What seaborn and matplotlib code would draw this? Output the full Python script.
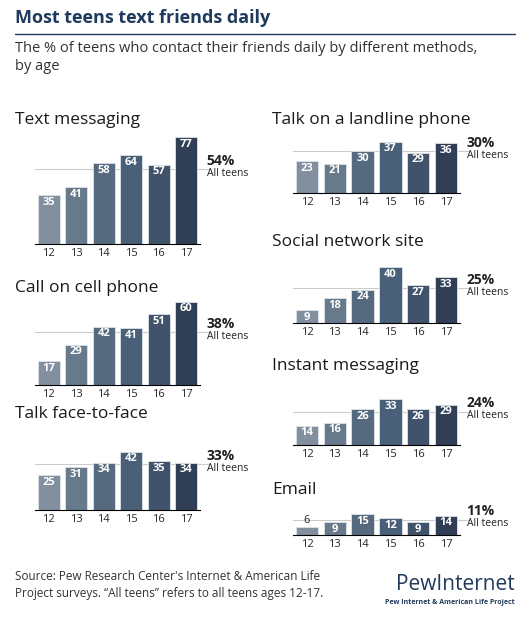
import pandas as pd
import matplotlib
matplotlib.use("Agg")
import matplotlib.pyplot as plt
import seaborn as sns

sns.set_style("white")
plt.rcParams['font.family'] = ['Open Sans', 'DejaVu Sans']

ages = ['12', '13', '14', '15', '16', '17']
titles = ['Text messaging', 'Call on cell phone', 'Talk face-to-face',
          'Talk on a landline phone', 'Social network site', 'Instant messaging', 'Email']
values = [
    [35, 41, 58, 64, 57, 77],
    [17, 29, 42, 41, 51, 60],
    [25, 31, 34, 42, 35, 34],
    [23, 21, 30, 37, 29, 36],
    [9, 18, 24, 40, 27, 33],
    [14, 16, 26, 33, 26, 29],
    [6, 9, 15, 12, 9, 14],
]
all_teens = [54, 38, 33, 30, 25, 24, 11]

palette = ['#7c8ea4', '#5f7a93', '#4f6a86', '#435f7f', '#3a5272', '#2a3e5c']

W, H = 530, 634
fig = plt.figure(figsize=(W / 100, H / 100), dpi=100)
scale = 1.39  # px per percentage point

# (left, right, baseline) in pixels
boxes = [(35, 200, 244), (35, 200, 385), (35, 200, 510),
         (293, 460, 193), (293, 460, 323), (293, 460, 445), (293, 460, 535)]
title_y = [120, 288, 414, 120, 242, 366, 490]

for i, (l, r, base) in enumerate(boxes):
    hpx = max(values[i]) * scale + 4
    ax = fig.add_axes([l / W, 1 - base / H, (r - l) / W, hpx / H])
    df = pd.DataFrame({'age': ages, 'pct': values[i]})
    sns.barplot(data=df, x='age', y='pct', hue='age', palette=palette,
                legend=False, width=0.8, ax=ax, zorder=2,
                edgecolor='#dde3ea', linewidth=0.6)
    ax.set_ylim(0, hpx / scale)
    ax.axhline(all_teens[i], color='#cccccc', lw=0.8, zorder=1,
               xmin=0, xmax=1.06, clip_on=False)
    for j, v in enumerate(values[i]):
        if v >= 9:
            ax.text(j, v - 1.2, str(v), ha='center', va='top', color='white',
                    fontsize=8, fontweight='bold', zorder=3)
        else:
            ax.text(j, v + 0.8, str(v), ha='center', va='bottom', color='#222222',
                    fontsize=8, zorder=3)
    ax.set_xlabel('')
    ax.set_ylabel('')
    ax.set_yticks([])
    for s in ['top', 'right', 'left']:
        ax.spines[s].set_visible(False)
    ax.spines['bottom'].set_color('black')
    ax.tick_params(axis='x', length=0, labelsize=8, pad=3)
    ax.text(1.04, all_teens[i] + 1, f'{all_teens[i]}%', transform=ax.get_yaxis_transform(),
            ha='left', va='bottom', fontsize=10, fontweight='bold', color='#222222')
    ax.text(1.04, all_teens[i] + 1, 'All teens', transform=ax.get_yaxis_transform(),
            ha='left', va='top', fontsize=7.5, color='#222222')
    tx = 15 if l < 100 else 272
    fig.text(tx / W, 1 - title_y[i] / H, titles[i], fontsize=12.5, color='#1a1a1a', va='center')

fig.text(15 / W, 1 - 18 / H, 'Most teens text friends daily', fontsize=13,
         fontweight='bold', color='#1f3a5c', va='center')
fig.add_artist(plt.Line2D([15 / W, 515 / W], [1 - 34 / H, 1 - 34 / H], color='#1f3a5c', lw=1))
fig.text(15 / W, 1 - 48 / H, 'The % of teens who contact their friends daily by different methods,',
         fontsize=10.5, color='#333333', va='center')
fig.text(15 / W, 1 - 66 / H, 'by age', fontsize=10.5, color='#333333', va='center')

fig.text(15 / W, 1 - 585 / H, "Source: Pew Research Center's Internet & American Life\n"
         "Project surveys. \u201cAll teens\u201d refers to all teens ages 12-17.",
         fontsize=8.5, color='#333333', va='center', linespacing=1.3)
fig.text(515 / W, 1 - 584 / H, 'PewInternet', fontsize=15, color='#1f3a5c',
         va='center', ha='right')
fig.text(515 / W, 1 - 603 / H, 'Pew Internet & American Life Project', fontsize=5,
         fontweight='bold', color='#1f3a5c', va='center', ha='right')

fig.savefig('out.png', dpi=100)
